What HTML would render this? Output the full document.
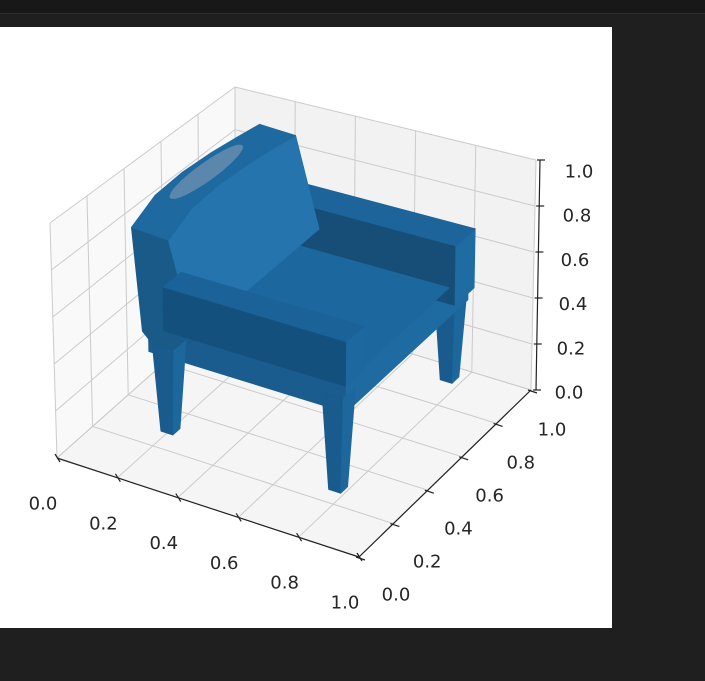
<!DOCTYPE html>
<html><head><meta charset="utf-8"><style>
html,body{margin:0;padding:0;background:#1f1f1f;}
svg{display:block;}
text{font-family:"DejaVu Sans","Liberation Sans",sans-serif;font-size:18px;fill:#262626;}
</style></head><body>
<svg id="chart" width="705" height="681" viewBox="0 0 705 681" xmlns="http://www.w3.org/2000/svg">
<rect x="0" y="0" width="705" height="681" fill="#1f1f1f"/>
<rect x="0" y="0" width="705" height="13" fill="#181818"/>
<rect x="0" y="13" width="705" height="1" fill="#2e2e2e"/>
<rect x="0" y="27" width="612" height="601" fill="#ffffff"/>
<g id="panes"></g>
<g id="grid"></g>
<g id="mesh"></g>
<g id="axes"></g>
<g id="labels"></g>
</svg>
<script>
// ---- data ----
const xTicks = [0, 0.2, 0.4, 0.6, 0.8, 1.0];
const yTicks = [0, 0.2, 0.4, 0.6, 0.8, 1.0];
const zTicks = [0, 0.2, 0.4, 0.6, 0.8, 1.0];
const xTickLabels = ["0.0","0.2","0.4","0.6","0.8","1.0"];
const yTickLabels = ["0.0","0.2","0.4","0.6","0.8","1.0"];
const zTickLabels = ["0.0","0.2","0.4","0.6","0.8","1.0"];
// chair parts in data coordinates
const legX = [0.2, 0.76, 0.77, 0.2];
const legY = [0.94, 0.94, 0.28, 0.3];
const legTopZ = [0.4, 0.4, 0.42, 0.38];
const backY = [0.27, 0.4, 0.55, 0.7, 0.85, 0.97];
const backTopZ = [0.86, 0.92, 0.93, 0.92, 0.9, 0.88];
const seatBox = [0.15, 0.8, 0.27, 0.97, 0.34, 0.47];
const seatTop = [0.28, 0.8, 0.37, 0.86, 0.47];
const farArm = [0.25, 0.82, 0.86, 0.97, 0.4, 0.66];
const frontArm = [0.2, 0.8, 0.27, 0.37, 0.45, 0.64];
const spot = [0.16, 0.58, 0.035, 0.19, 0.935];

// ---- projection (trilinear from screen corners of the unit cube) ----
const C = {
  b00:[57,458], b10:[359,557], b01:[235,300], b11:[531,390],
  t00:[50,223], t10:[362,317], t01:[235,87], t11:[536,160]
};
function bil(a,b,c,d,x,y){
  return [ (1-y)*((1-x)*a[0]+x*b[0]) + y*((1-x)*c[0]+x*d[0]),
           (1-y)*((1-x)*a[1]+x*b[1]) + y*((1-x)*c[1]+x*d[1]) ];
}
function P(x,y,z){
  const b = bil(C.b00,C.b10,C.b01,C.b11,x,y);
  const t = bil(C.t00,C.t10,C.t01,C.t11,x,y);
  return [b[0]+(t[0]-b[0])*z, b[1]+(t[1]-b[1])*z];
}
const NS = "http://www.w3.org/2000/svg";
function mk(tag, parent){ const e=document.createElementNS(NS,tag); parent.appendChild(e); return e; }
function ptsStr(arr){ return arr.map(p=>{const q=P(p[0],p[1],p[2]);return q[0].toFixed(1)+","+q[1].toFixed(1);}).join(" "); }
function poly(parent, pts, fill, name){
  const e = mk("polygon", parent);
  e.setAttribute("points", ptsStr(pts));
  e.setAttribute("fill", fill);
  e.setAttribute("stroke", fill);
  e.setAttribute("stroke-width", "0.8");
  e.setAttribute("stroke-linejoin", "round");
  
  
  return e;
}
function line(parent, a, b, stroke, w, name){
  const e = mk("line", parent);
  const p=P(a[0],a[1],a[2]), q=P(b[0],b[1],b[2]);
  e.setAttribute("x1",p[0]); e.setAttribute("y1",p[1]);
  e.setAttribute("x2",q[0]); e.setAttribute("y2",q[1]);
  e.setAttribute("stroke",stroke); e.setAttribute("stroke-width",w);
  
  
  return e;
}

// ---- panes ----
const panes = document.getElementById("panes");
poly(panes, [[0,0,0],[0,1,0],[0,1,1],[0,0,1]], "#f9f9f9", "left-pane");
poly(panes, [[0,1,0],[1,1,0],[1,1,1],[0,1,1]], "#f2f2f2", "back-pane");
poly(panes, [[0,0,0],[1,0,0],[1,1,0],[0,1,0]], "#f5f5f5", "floor-pane");

// ---- grid ----
const grid = document.getElementById("grid");
const gc = "#cbcbcb";
xTicks.forEach(v=>{
  line(grid,[v,0,0],[v,1,0],gc,1,"floor-grid-x");
  line(grid,[v,1,0],[v,1,1],gc,1,"back-grid-x");
});
yTicks.forEach(v=>{
  line(grid,[0,v,0],[1,v,0],gc,1,"floor-grid-y");
  line(grid,[0,v,0],[0,v,1],gc,1,"left-grid-y");
});
zTicks.forEach(v=>{
  line(grid,[0,0,v],[0,1,v],gc,1,"left-grid-z");
  line(grid,[0,1,v],[1,1,v],gc,1,"back-grid-z");
});

// ---- chair ----
const mesh = document.getElementById("mesh");
function boxFaces(b, cTop, cFront, cSide, name){
  const [x0,x1,y0,y1,z0,z1]=b;
  poly(mesh, [[x0,y0,z0],[x1,y0,z0],[x1,y0,z1],[x0,y0,z1]], cFront, name+"-front");
  poly(mesh, [[x1,y0,z0],[x1,y1,z0],[x1,y1,z1],[x1,y0,z1]], cSide, name+"-side");
  poly(mesh, [[x0,y0,z1],[x1,y0,z1],[x1,y1,z1],[x0,y1,z1]], cTop, name+"-top");
}
function leg(i){
  const x=legX[i], y=legY[i], zt=legTopZ[i], a=0.035, b=0.02;
  poly(mesh, [[x-b,y-b,0],[x+b,y-b,0],[x+a,y-a,zt],[x-a,y-a,zt]], "#185b8c", "leg-"+i+"-front");
  poly(mesh, [[x+b,y-b,0],[x+b,y+b,0],[x+a,y+a,zt],[x+a,y-a,zt]], "#1c679c", "leg-"+i+"-side");
}
leg(0); leg(1);
boxFaces(seatBox, "#1c669b", "#1a5c8d", "#1e6ba2", "seat-base");
boxFaces(farArm, "#1c6499", "#174e78", "#1f6ca3", "far-arm");
poly(mesh, [[seatTop[0],seatTop[2],seatTop[4]],[seatTop[1],seatTop[2],seatTop[4]],[seatTop[1],seatTop[3],seatTop[4]],[seatTop[0],seatTop[3],seatTop[4]]], "#1c689e", "seat-cushion");
(function(){
  const xr=0.1, xf=0.22, n=backY.length;
  const topPts=[];
  for(let i=0;i<n;i++) topPts.push([xr,backY[i],backTopZ[i]]);
  for(let i=n-1;i>=0;i--) topPts.push([xf,backY[i],backTopZ[i]-0.01]);
  const frontPts=[];
  for(let i=0;i<n;i++) frontPts.push([xf,backY[i],backTopZ[i]-0.01]);
  frontPts.push([0.3,backY[n-1],0.47]); frontPts.push([0.3,backY[0],0.47]);
  poly(mesh, [[xr,backY[0],backTopZ[0]],[xf,backY[0],backTopZ[0]-0.01],[0.3,backY[0],0.45],[0.2,backY[0],0.33],[0.13,backY[0],0.42]], "#195a89", "backrest-side");
  poly(mesh, frontPts, "#2574ad", "backrest-front");
  poly(mesh, topPts, "#1e69a0", "backrest-top");
  const sp=[];
  for(let k=0;k<36;k++){const t=k/36*2*Math.PI; sp.push([spot[0]+spot[2]*Math.cos(t), spot[1]+spot[3]*Math.sin(t), spot[4]]);}
  const e=poly(mesh, sp, "#6a8fae", "backrest-highlight");
  e.setAttribute("opacity","0.8");
})();
leg(3); leg(2);
boxFaces(frontArm, "#1b6298", "#14507e", "#1c689f", "front-arm");

// ---- axes ----
const axes = document.getElementById("axes");
line(axes,[0,0,0],[1,0,0],"#222",1.2,"x-axis-line");
line(axes,[1,0,0],[1,1,0],"#222",1.2,"y-axis-line");
(function(){
  const a=P(1,1,0), b=P(1,1,1);
  const e=mk("line",axes);
  e.setAttribute("x1",a[0]+5);e.setAttribute("y1",a[1]);e.setAttribute("x2",b[0]+4);e.setAttribute("y2",b[1]);
  e.setAttribute("stroke","#222");e.setAttribute("stroke-width","1.2");
  
  
})();
const lab = document.getElementById("labels");
function tick(x1,y1,x2,y2,name){
  const e=mk("line",axes);
  e.setAttribute("x1",x1);e.setAttribute("y1",y1);e.setAttribute("x2",x2);e.setAttribute("y2",y2);
  e.setAttribute("stroke","#222");e.setAttribute("stroke-width","1.2");
  
  
}
function label(x,y,s,name){
  const t=mk("text",lab);
  t.setAttribute("x",x);t.setAttribute("y",y);t.setAttribute("text-anchor","middle");
  t.setAttribute("dominant-baseline","central");
  t.textContent=s;
  
  
}
xTicks.forEach((v,i)=>{
  const p=P(v,0,0);
  tick(p[0]-2,p[1]-4,p[0]+3,p[1]+4,"x-tick");
  label(p[0]-14,p[1]+46,xTickLabels[i],"x-tick-label");
});
yTicks.forEach((v,i)=>{
  const p=P(1,v,0);
  tick(p[0]-3,p[1],p[0]+6,p[1]+3,"y-tick");
  label(p[0]+37-16*v,p[1]+38+2*v,yTickLabels[i],"y-tick-label");
});
zTicks.forEach((v,i)=>{
  const a=P(1,1,0), b=P(1,1,1);
  const x=a[0]+5+(b[0]-a[0]-1)*v, y=a[1]+(b[1]-a[1])*v;
  tick(x-3,y,x+5,y,"z-tick");
  label(x+33+6*v,y+3+9*v,zTickLabels[i],"z-tick-label");
});
</script>
</body></html>
